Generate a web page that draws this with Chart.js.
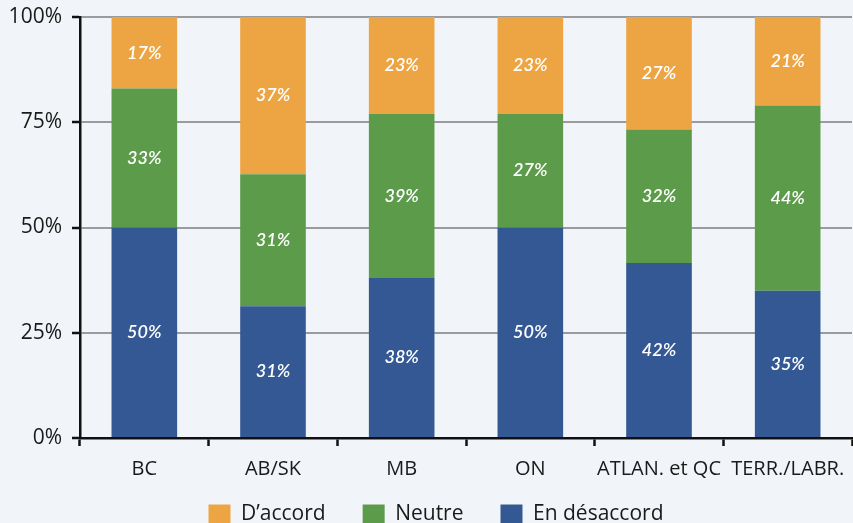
<!DOCTYPE html>
<html>
<head>
<meta charset="utf-8">
<script src="https://cdn.jsdelivr.net/npm/chart.js@4/dist/chart.umd.min.js"></script>
<style>
  html, body { margin: 0; padding: 0; background: #f1f5f9; overflow: hidden; }
  canvas { display: block; }
</style>
</head>
<body>
<canvas id="c" width="853" height="560"></canvas>
<script>
// Regions and survey answers (percent of respondents)
const regions = ['BC', 'AB/SK', 'MB', 'ON', 'ATLAN. et QC', 'TERR./LABR.'];
const desaccord = [50, 31, 38, 50, 42, 35];
const neutre    = [33, 31, 39, 27, 32, 44];
const accord    = [17, 37, 23, 23, 27, 21];
const yTicks = [0, 25, 50, 75, 100];

const COLORS = { accord: '#eda543', neutre: '#5c9b49', desaccord: '#345894' };

// Each bar is a 100% stack: shares are computed from the answers of the region
const totals = regions.map((_, i) => desaccord[i] + neutre[i] + accord[i]);
const share = arr => arr.map((v, i) => v / totals[i] * 100);

const labelFont = '"Open Sans", "DejaVu Sans", sans-serif';

// Writes each segment's answer in the middle of the segment
const segmentLabels = {
  id: 'segmentLabels',
  afterDatasetsDraw(chart) {
    const ctx = chart.ctx;
    ctx.save();
    ctx.fillStyle = '#ffffff';
    ctx.font = 'italic 600 18px Lato, "DejaVu Sans", sans-serif';
    ctx.textAlign = 'center';
    ctx.textBaseline = 'middle';
    chart.data.datasets.forEach((ds, di) => {
      const meta = chart.getDatasetMeta(di);
      meta.data.forEach((bar, i) => {
        const y = (bar.y + bar.base) / 2;
        ctx.fillText(ds.raw[i] + '%', bar.x, y);
      });
    });
    ctx.restore();
  }
};

// Moves the legend row closer to the axis labels and nudges it right
const legendPlacement = {
  id: 'legendPlacement',
  afterLayout(chart) {
    const lg = chart.legend;
    const h = lg.bottom - lg.top;
    lg.top = 467;
    lg.bottom = lg.top + h;
    lg.left = 20;
  }
};

new Chart(document.getElementById('c'), {
  type: 'bar',
  data: {
    labels: regions,
    datasets: [
      { label: 'En désaccord', data: share(desaccord), raw: desaccord, backgroundColor: COLORS.desaccord },
      { label: 'Neutre',       data: share(neutre),    raw: neutre,    backgroundColor: COLORS.neutre },
      { label: 'D\u2019accord', data: share(accord),   raw: accord,    backgroundColor: COLORS.accord }
    ]
  },
  options: {
    responsive: false,
    animation: false,
    layout: { padding: { top: 17, left: 0, right: 1, bottom: 0 } },
    datasets: { bar: { categoryPercentage: 1, barPercentage: 0.51, borderWidth: 0 } },
    scales: {
      x: {
        stacked: true,
        offset: true,
        grid: {
          offset: true,
          drawOnChartArea: false,
          drawTicks: true,
          tickLength: 8,
          tickWidth: 2.5,
          tickColor: '#111111'
        },
        border: { display: true, color: '#111111', width: 2.5 },
        ticks: {
          padding: 11,
          maxRotation: 0,
          autoSkip: false,
          color: '#1a1a1a',
          font: { family: labelFont, size: 20 }
        },
        afterFit(scale) { scale.paddingLeft = 0; scale.paddingRight = 0; }
      },
      y: {
        stacked: true,
        min: 0,
        max: 100,
        afterBuildTicks(scale) { scale.ticks = yTicks.map(v => ({ value: v })); },
        grid: {
          color: ctx => (ctx.tick && ctx.tick.value === 0) ? 'rgba(0,0,0,0)' : '#9b9b9e',
          lineWidth: 2,
          drawTicks: true,
          tickLength: 8,
          tickWidth: 2.5,
          tickColor: '#111111'
        },
        border: { display: true, color: '#111111', width: 2.5 },
        ticks: {
          padding: 10,
          color: '#1a1a1a',
          font: { family: labelFont, size: 21 },
          callback: v => v + '%'
        },
        afterFit(scale) { scale.width = 80; scale.paddingTop = 0; scale.paddingBottom = 0; }
      }
    },
    plugins: {
      tooltip: { enabled: false },
      legend: {
        position: 'bottom',
        reverse: true,
        labels: {
          boxWidth: 22,
          boxHeight: 20,
          padding: 37,
          color: '#1a1a1a',
          font: { family: labelFont, size: 21 }
        }
      }
    }
  },
  plugins: [segmentLabels, legendPlacement]
});
</script>
</body>
</html>
